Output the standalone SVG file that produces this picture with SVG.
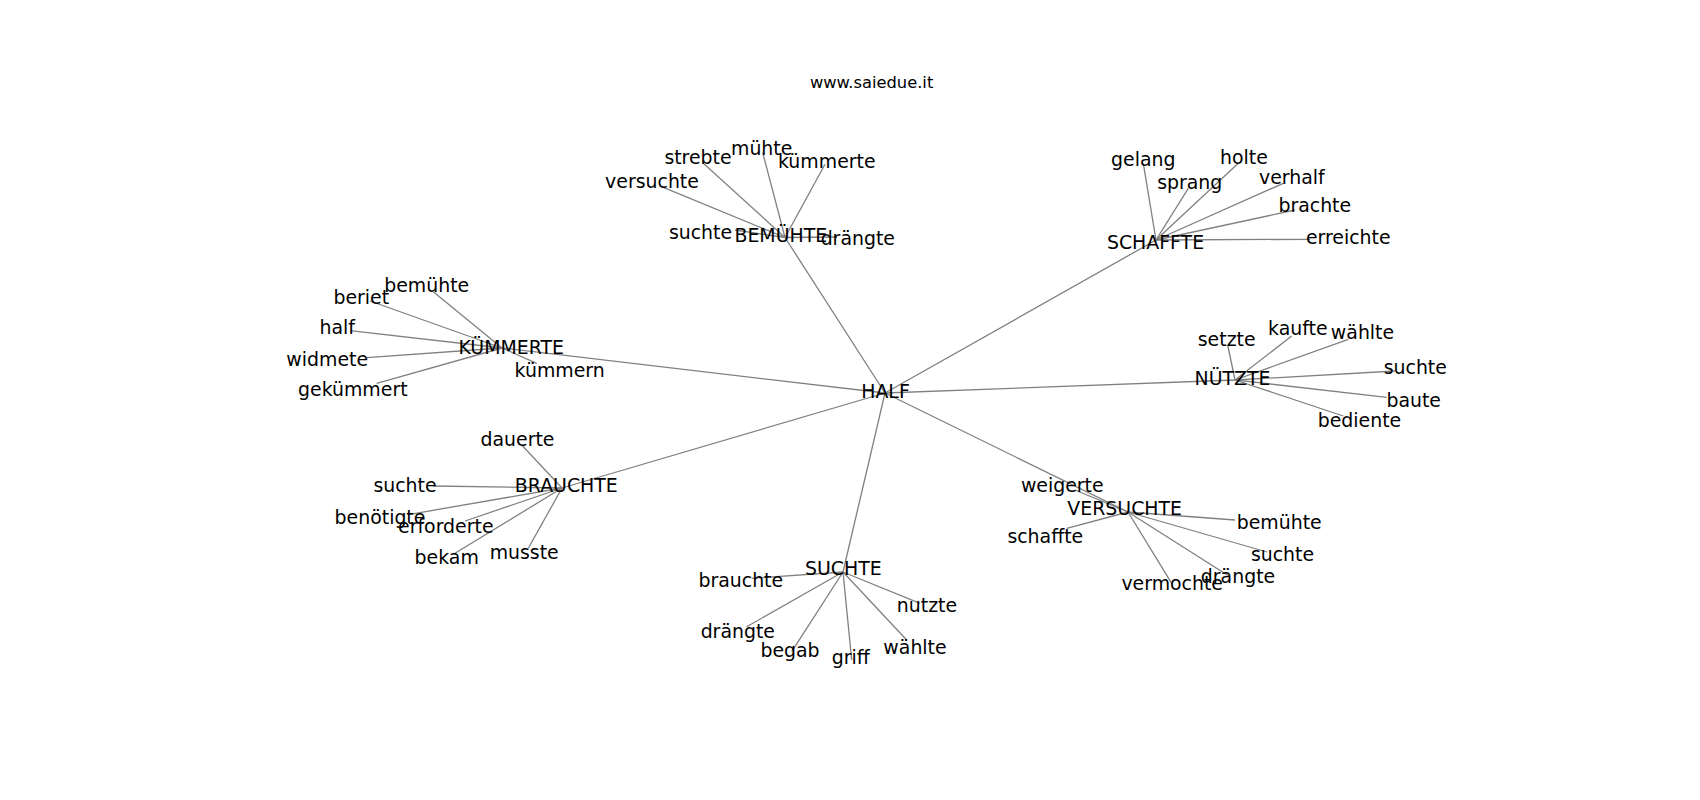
<svg xmlns="http://www.w3.org/2000/svg" width="1700" height="800" viewBox="0 0 1700 800">
<style>
.e{stroke:#808080;stroke-width:1.3;fill:none}
.t{font-family:"DejaVu Sans",sans-serif;font-size:18.9px;fill:#000;text-anchor:middle}
.title{font-family:"DejaVu Sans",sans-serif;font-size:16.3px;fill:#000;text-anchor:middle}
</style>
<rect width="1700" height="800" fill="#fff"/>
<text class="title" x="871.6" y="87.7">www.saiedue.it</text>
<g id="edges">
<line class="e" x1="885" y1="393" x2="785" y2="237.5"/>
<line class="e" x1="885" y1="393" x2="1156" y2="240"/>
<line class="e" x1="885" y1="393" x2="502" y2="348"/>
<line class="e" x1="885" y1="393" x2="1235" y2="380"/>
<line class="e" x1="885" y1="393" x2="562" y2="488"/>
<line class="e" x1="885" y1="393" x2="843" y2="572"/>
<line class="e" x1="885" y1="393" x2="1128" y2="512"/>
<line class="e" x1="785" y1="237.5" x2="703.3" y2="163.3"/>
<line class="e" x1="785" y1="237.5" x2="762.7" y2="152.7"/>
<line class="e" x1="785" y1="237.5" x2="825" y2="164.3"/>
<line class="e" x1="785" y1="237.5" x2="663.3" y2="187.3"/>
<line class="e" x1="785" y1="237.5" x2="735" y2="230"/>
<line class="e" x1="785" y1="237.5" x2="837" y2="237"/>
<line class="e" x1="1156" y1="240" x2="1143.3" y2="163.3"/>
<line class="e" x1="1156" y1="240" x2="1188.3" y2="188.3"/>
<line class="e" x1="1156" y1="240" x2="1238.3" y2="163.3"/>
<line class="e" x1="1156" y1="240" x2="1283.3" y2="183.3"/>
<line class="e" x1="1156" y1="240" x2="1295" y2="210"/>
<line class="e" x1="1156" y1="240" x2="1310" y2="239.3"/>
<line class="e" x1="502" y1="348" x2="433.3" y2="291.7"/>
<line class="e" x1="502" y1="348" x2="370" y2="301"/>
<line class="e" x1="502" y1="348" x2="350" y2="330.7"/>
<line class="e" x1="502" y1="348" x2="366.7" y2="357.7"/>
<line class="e" x1="502" y1="348" x2="376.7" y2="383.3"/>
<line class="e" x1="502" y1="348" x2="536.7" y2="363.3"/>
<line class="e" x1="1235" y1="380" x2="1227.7" y2="345"/>
<line class="e" x1="1235" y1="380" x2="1291.7" y2="336"/>
<line class="e" x1="1235" y1="380" x2="1348.3" y2="339.3"/>
<line class="e" x1="1235" y1="380" x2="1395" y2="371"/>
<line class="e" x1="1235" y1="380" x2="1386.7" y2="397.3"/>
<line class="e" x1="1235" y1="380" x2="1343.3" y2="416"/>
<line class="e" x1="562" y1="488" x2="521.7" y2="445"/>
<line class="e" x1="562" y1="488" x2="433.3" y2="486"/>
<line class="e" x1="562" y1="488" x2="410" y2="514.3"/>
<line class="e" x1="562" y1="488" x2="465" y2="521"/>
<line class="e" x1="562" y1="488" x2="455" y2="553.3"/>
<line class="e" x1="562" y1="488" x2="528.3" y2="548.3"/>
<line class="e" x1="843" y1="572" x2="751.7" y2="578.3"/>
<line class="e" x1="843" y1="572" x2="920" y2="603.3"/>
<line class="e" x1="843" y1="572" x2="746.7" y2="626.7"/>
<line class="e" x1="843" y1="572" x2="791.7" y2="651.7"/>
<line class="e" x1="843" y1="572" x2="851.7" y2="660"/>
<line class="e" x1="843" y1="572" x2="906.7" y2="640"/>
<line class="e" x1="1128" y1="512" x2="1075" y2="490"/>
<line class="e" x1="1128" y1="512" x2="1066.7" y2="528.3"/>
<line class="e" x1="1128" y1="512" x2="1235" y2="520"/>
<line class="e" x1="1128" y1="512" x2="1267" y2="552"/>
<line class="e" x1="1128" y1="512" x2="1230" y2="576.7"/>
<line class="e" x1="1128" y1="512" x2="1171.7" y2="583.3"/>
</g>
<g id="n-half"><text class="t" x="885.5" y="398.3">HALF</text></g>
<g id="n-bemuehte">
<text class="t" x="780.8" y="241.7">BEMÜHTE</text>
<text class="t" x="698" y="164">strebte</text>
<text class="t" x="761.7" y="155">mühte</text>
<text class="t" x="826.8" y="167.7">kümmerte</text>
<text class="t" x="652" y="188">versuchte</text>
<text class="t" x="700.5" y="239">suchte</text>
<text class="t" x="857.8" y="244.5">drängte</text>
</g>
<g id="n-schaffte">
<text class="t" x="1155.5" y="249">SCHAFFTE</text>
<text class="t" x="1143.3" y="166">gelang</text>
<text class="t" x="1244" y="164">holte</text>
<text class="t" x="1189.7" y="189.3">sprang</text>
<text class="t" x="1291.8" y="184.3">verhalf</text>
<text class="t" x="1314.8" y="212.3">brachte</text>
<text class="t" x="1348.3" y="244">erreichte</text>
</g>
<g id="n-kuemmerte">
<text class="t" x="511.2" y="354.3">KÜMMERTE</text>
<text class="t" x="426.7" y="291.7">bemühte</text>
<text class="t" x="361.3" y="304.3">beriet</text>
<text class="t" x="337.2" y="334">half</text>
<text class="t" x="327.2" y="365.7">widmete</text>
<text class="t" x="352.8" y="396">gekümmert</text>
<text class="t" x="559.7" y="376.7">kümmern</text>
</g>
<g id="n-nuetzte">
<text class="t" x="1232.5" y="385">NÜTZTE</text>
<text class="t" x="1226.7" y="345.7">setzte</text>
<text class="t" x="1297.8" y="335">kaufte</text>
<text class="t" x="1362.5" y="339.3">wählte</text>
<text class="t" x="1415.3" y="374">suchte</text>
<text class="t" x="1413.7" y="406.7">baute</text>
<text class="t" x="1359.5" y="426.7">bediente</text>
</g>
<g id="n-brauchte">
<text class="t" x="566.3" y="492.3">BRAUCHTE</text>
<text class="t" x="517.5" y="446">dauerte</text>
<text class="t" x="405" y="491.7">suchte</text>
<text class="t" x="380" y="524.3">benötigte</text>
<text class="t" x="445.8" y="532.7">erforderte</text>
<text class="t" x="446.7" y="564.3">bekam</text>
<text class="t" x="524.2" y="559.3">musste</text>
</g>
<g id="n-suchte">
<text class="t" x="843.3" y="575">SUCHTE</text>
<text class="t" x="740.8" y="586.7">brauchte</text>
<text class="t" x="927" y="612.3">nutzte</text>
<text class="t" x="737.8" y="638.3">drängte</text>
<text class="t" x="790" y="656.7">begab</text>
<text class="t" x="850.8" y="664">griff</text>
<text class="t" x="915" y="654.3">wählte</text>
</g>
<g id="n-versuchte">
<text class="t" x="1124.7" y="515">VERSUCHTE</text>
<text class="t" x="1062.3" y="491.7">weigerte</text>
<text class="t" x="1279.2" y="529.3">bemühte</text>
<text class="t" x="1045.3" y="542.7">schaffte</text>
<text class="t" x="1282.5" y="561">suchte</text>
<text class="t" x="1238" y="583.3">drängte</text>
<text class="t" x="1172.2" y="590">vermochte</text>
</g>
</svg>
